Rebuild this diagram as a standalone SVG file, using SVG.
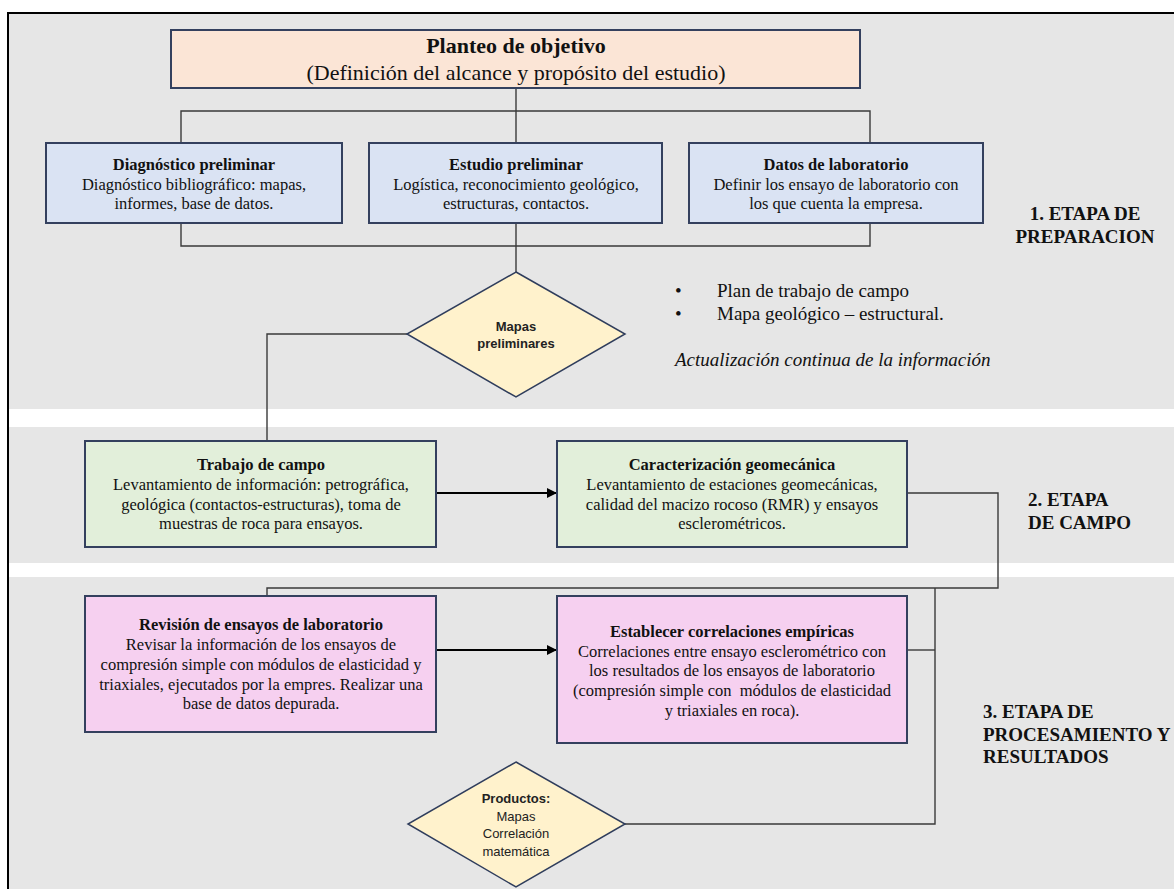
<svg xmlns="http://www.w3.org/2000/svg" width="1174" height="889" viewBox="0 0 1174 889">
<defs>
<style>
.band{fill:#e6e6e6}
.box{stroke:#34405e;stroke-width:2}
.peach{fill:#fbe5d6}
.blue{fill:#dae3f3}
.green{fill:#e2efda}
.pink{fill:#f6d0f0}
.dia{fill:#fff2cc;stroke:#2f3d5c;stroke-width:1.5}
.t{font-family:"Liberation Serif","Times New Roman",serif;font-size:16.5px;fill:#111;text-anchor:middle}
.b{font-weight:bold}
.big{font-size:22px}
.s{font-family:"Liberation Sans",Arial,sans-serif;font-size:13px;fill:#222;text-anchor:middle}
.lab{font-family:"Liberation Serif","Times New Roman",serif;font-size:19px;font-weight:bold;fill:#111}
.note{font-family:"Liberation Serif","Times New Roman",serif;font-size:19px;fill:#111}
.ln{fill:none;stroke:#3a3a3a;stroke-width:1.4}
.ar{fill:none;stroke:#000;stroke-width:2}
</style>
<marker id="ah" markerWidth="10" markerHeight="10" refX="9" refY="5" orient="auto" markerUnits="userSpaceOnUse">
<path d="M0,0 L10,5 L0,10 Z" fill="#000"/>
</marker>
</defs>
<rect width="1174" height="889" fill="#fff"/>
<g id="bands">
<rect class="band" x="9" y="14" width="1165" height="395"/>
<rect class="band" x="9" y="427" width="1165" height="136"/>
<rect class="band" x="9" y="577" width="1165" height="312"/>
<path d="M8,889 V13 H1174" fill="none" stroke="#000" stroke-width="2"/>
</g>
<g id="connectors">
<path class="ln" d="M516,88 V143"/>
<path class="ln" d="M181,143 V111 H870 V143"/>
<path class="ln" d="M181,223 V246 H870 V223"/>
<path class="ln" d="M516,223 V272"/>
<path class="ln" d="M407,334 H267 V441"/>
<path class="ar" d="M436,493 H556" marker-end="url(#ah)"/>
<path class="ln" d="M907,493 H998 V588 H267 V596"/>
<path class="ar" d="M436,650 H556" marker-end="url(#ah)"/>
<path class="ln" d="M907,650 H935"/>
<path class="ln" d="M935,588 V824 H625"/>
</g>
<g id="planteo">
<rect class="box peach" x="171" y="30" width="689" height="58"/>
<text class="t b big" x="516" y="53">Planteo de objetivo</text>
<text class="t big" x="516" y="80">(Definición del alcance y propósito del estudio)</text>
</g>
<g id="diagnostico">
<rect class="box blue" x="46" y="143" width="296" height="80"/>
<text class="t b" x="194" y="170">Diagnóstico preliminar</text>
<text class="t" x="194" y="190">Diagnóstico bibliográfico: mapas,</text>
<text class="t" x="194" y="209">informes, base de datos.</text>
</g>
<g id="estudio">
<rect class="box blue" x="369" y="143" width="293" height="80"/>
<text class="t b" x="516" y="170">Estudio preliminar</text>
<text class="t" x="516" y="190">Logística, reconocimiento geológico,</text>
<text class="t" x="516" y="209">estructuras, contactos.</text>
</g>
<g id="datos">
<rect class="box blue" x="689" y="143" width="294" height="80"/>
<text class="t b" x="836" y="170">Datos de laboratorio</text>
<text class="t" x="836" y="190">Definir los ensayo de laboratorio con</text>
<text class="t" x="836" y="209">los que cuenta la empresa.</text>
</g>
<g id="etapa1">
<text class="lab" x="1085" y="220" text-anchor="middle">1. ETAPA DE</text>
<text class="lab" x="1085" y="243" text-anchor="middle">PREPARACION</text>
</g>
<g id="notas">
<text class="note" x="675" y="297">•</text>
<text class="note" x="717" y="297">Plan de trabajo de campo</text>
<text class="note" x="675" y="320">•</text>
<text class="note" x="717" y="320">Mapa geológico – estructural.</text>
<text class="note" x="675" y="366" font-style="italic">Actualización continua de la información</text>
</g>
<g id="mapas">
<polygon class="dia" points="516,272 625,334 516,397 407,334"/>
<text class="s b" x="516" y="331">Mapas</text>
<text class="s b" x="516" y="348">preliminares</text>
</g>
<g id="trabajo">
<rect class="box green" x="85" y="441" width="351" height="106"/>
<text class="t b" x="261" y="470">Trabajo de campo</text>
<text class="t" x="261" y="490">Levantamiento de información: petrográfica,</text>
<text class="t" x="261" y="510">geológica (contactos-estructuras), toma de</text>
<text class="t" x="261" y="529">muestras de roca para ensayos.</text>
</g>
<g id="caracterizacion">
<rect class="box green" x="557" y="441" width="350" height="106"/>
<text class="t b" x="732" y="470">Caracterización geomecánica</text>
<text class="t" x="732" y="490">Levantamiento de estaciones geomecánicas,</text>
<text class="t" x="732" y="510">calidad del macizo rocoso (RMR) y ensayos</text>
<text class="t" x="732" y="529">esclerométricos.</text>
</g>
<g id="etapa2">
<text class="lab" x="1028" y="506">2. ETAPA</text>
<text class="lab" x="1028" y="529">DE CAMPO</text>
</g>
<g id="revision">
<rect class="box pink" x="85" y="596" width="351" height="136"/>
<text class="t b" x="261" y="630">Revisión de ensayos de laboratorio</text>
<text class="t" x="261" y="650">Revisar la información de los ensayos de</text>
<text class="t" x="261" y="670">compresión simple con módulos de elasticidad y</text>
<text class="t" x="261" y="690">triaxiales, ejecutados por la empres. Realizar una</text>
<text class="t" x="261" y="709">base de datos depurada.</text>
</g>
<g id="establecer">
<rect class="box pink" x="557" y="596" width="350" height="147"/>
<text class="t b" x="732" y="637">Establecer correlaciones empíricas</text>
<text class="t" x="732" y="657">Correlaciones entre ensayo esclerométrico con</text>
<text class="t" x="732" y="676">los resultados de los ensayos de laboratorio</text>
<text class="t" x="732" y="696" xml:space="preserve">(compresión simple con  módulos de elasticidad</text>
<text class="t" x="732" y="716">y triaxiales en roca).</text>
</g>
<g id="etapa3">
<text class="lab" x="983" y="718">3. ETAPA DE</text>
<text class="lab" x="983" y="741">PROCESAMIENTO Y</text>
<text class="lab" x="983" y="763">RESULTADOS</text>
</g>
<g id="productos">
<polygon class="dia" points="516,762 625,824 516,887 408,824"/>
<text class="s b" x="516" y="803">Productos:</text>
<text class="s" x="516" y="821">Mapas</text>
<text class="s" x="516" y="838">Correlación</text>
<text class="s" x="516" y="856">matemática</text>
</g>
</svg>
